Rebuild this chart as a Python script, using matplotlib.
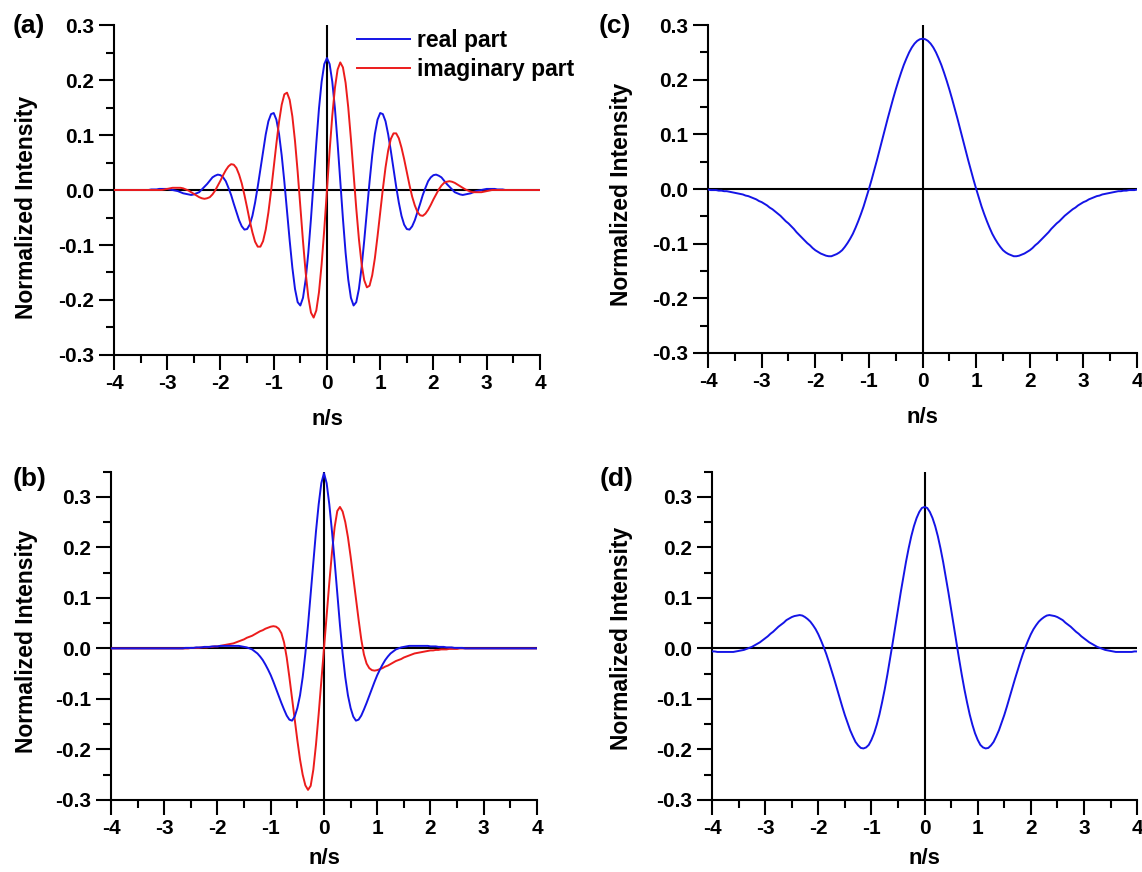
import numpy as np
import matplotlib.pyplot as plt
from matplotlib.ticker import MultipleLocator, FuncFormatter

plt.rcParams['font.family'] = ['Liberation Sans', 'DejaVu Sans']
plt.rcParams['font.weight'] = 'bold'
plt.rcParams['axes.unicode_minus'] = False

# sample positions along n/s, step 0.05
x_n = np.linspace(-4, 4, 161)

# (a) real / imaginary part
real_a = [
    0, 0, 0, 0, 0, 0, 0, 0, 0, 0,
    0, 0, 0, 0, 0.001, 0.001, 0.001, 0.002, 0.002, 0.002,
    0.002, 0.001, 0, -0.001, -0.002, -0.004, -0.006, -0.007, -0.008, -0.009,
    -0.008, -0.006, -0.004, 0.001, 0.006, 0.011, 0.017, 0.023, 0.026, 0.028,
    0.027, 0.023, 0.016, 0.004, -0.009, -0.025, -0.040, -0.055, -0.066, -0.072,
    -0.071, -0.063, -0.047, -0.023, 0.006, 0.038, 0.071, 0.101, 0.125, 0.138,
    0.140, 0.128, 0.102, 0.063, 0.015, -0.038, -0.092, -0.141, -0.180, -0.204,
    -0.210, -0.196, -0.163, -0.114, -0.052, 0.016, 0.085, 0.148, 0.197, 0.229,
    0.240, 0.229, 0.197, 0.148, 0.085, 0.016, -0.052, -0.114, -0.163, -0.196,
    -0.210, -0.204, -0.180, -0.141, -0.092, -0.038, 0.015, 0.063, 0.102, 0.128,
    0.140, 0.138, 0.125, 0.101, 0.071, 0.038, 0.006, -0.023, -0.047, -0.063,
    -0.071, -0.072, -0.066, -0.055, -0.040, -0.025, -0.009, 0.004, 0.016, 0.023,
    0.027, 0.028, 0.026, 0.023, 0.017, 0.011, 0.006, 0.001, -0.004, -0.006,
    -0.008, -0.009, -0.008, -0.007, -0.006, -0.004, -0.002, -0.001, 0, 0.001,
    0.002, 0.002, 0.002, 0.002, 0.001, 0.001, 0.001, 0, 0, 0,
    0, 0, 0, 0, 0, 0, 0, 0, 0, 0,
    0]
imag_a = [
    0, 0, 0, 0, 0, 0, 0, 0, 0, 0,
    0, 0, 0, 0, 0, 0, 0, 0, 0, 0.001,
    0.002, 0.003, 0.004, 0.004, 0.004, 0.004, 0.003, 0.001, -0.001, -0.004,
    -0.007, -0.010, -0.013, -0.015, -0.016, -0.015, -0.013, -0.008, -0.001, 0.008,
    0.017, 0.027, 0.036, 0.043, 0.047, 0.046, 0.040, 0.028, 0.012, -0.009,
    -0.032, -0.056, -0.077, -0.094, -0.103, -0.103, -0.093, -0.072, -0.041, -0.002,
    0.041, 0.084, 0.124, 0.155, 0.174, 0.177, 0.164, 0.134, 0.089, 0.033,
    -0.030, -0.093, -0.150, -0.195, -0.223, -0.232, -0.219, -0.186, -0.135, -0.071,
    0, 0.071, 0.135, 0.186, 0.219, 0.232, 0.223, 0.195, 0.150, 0.093,
    0.030, -0.033, -0.089, -0.134, -0.164, -0.177, -0.174, -0.155, -0.124, -0.084,
    -0.041, 0.002, 0.041, 0.072, 0.093, 0.103, 0.103, 0.094, 0.077, 0.056,
    0.032, 0.009, -0.012, -0.028, -0.040, -0.046, -0.047, -0.043, -0.036, -0.027,
    -0.017, -0.008, 0.001, 0.008, 0.013, 0.015, 0.016, 0.015, 0.013, 0.010,
    0.007, 0.004, 0.001, -0.001, -0.003, -0.004, -0.004, -0.004, -0.004, -0.003,
    -0.002, -0.001, 0, 0, 0, 0, 0, 0, 0, 0,
    0, 0, 0, 0, 0, 0, 0, 0, 0, 0,
    0]

# (b) real / imaginary part
real_b = [
    0, 0, 0, 0, 0, 0, 0, 0, 0, 0,
    0, 0, 0, 0, 0, 0, 0, 0, 0, 0,
    0, 0, 0, 0, 0, 0, 0, 0, 0.001, 0.001,
    0.001, 0.001, 0.002, 0.002, 0.002, 0.003, 0.003, 0.003, 0.004, 0.004,
    0.004, 0.005, 0.005, 0.005, 0.005, 0.005, 0.005, 0.005, 0.005, 0.004,
    0.003, 0.002, 0, -0.002, -0.006, -0.010, -0.016, -0.023, -0.032, -0.042,
    -0.053, -0.066, -0.080, -0.094, -0.108, -0.121, -0.133, -0.141, -0.143, -0.135,
    -0.118, -0.093, -0.057, -0.010, 0.046, 0.108, 0.172, 0.232, 0.285, 0.327,
    0.347, 0.327, 0.285, 0.232, 0.172, 0.108, 0.046, -0.010, -0.057, -0.093,
    -0.118, -0.135, -0.143, -0.141, -0.133, -0.121, -0.108, -0.094, -0.080, -0.066,
    -0.053, -0.042, -0.032, -0.023, -0.016, -0.010, -0.006, -0.002, 0, 0.002,
    0.003, 0.004, 0.005, 0.005, 0.005, 0.005, 0.005, 0.005, 0.005, 0.005,
    0.004, 0.004, 0.004, 0.003, 0.003, 0.003, 0.002, 0.002, 0.002, 0.001,
    0.001, 0.001, 0.001, 0, 0, 0, 0, 0, 0, 0,
    0, 0, 0, 0, 0, 0, 0, 0, 0, 0,
    0, 0, 0, 0, 0, 0, 0, 0, 0, 0,
    0]
imag_b = [
    0, 0, 0, 0, 0, 0, 0, 0, 0, 0,
    0, 0, 0, 0, 0, 0, 0, 0, 0, 0,
    0, 0, 0, 0, 0, 0, 0, 0, 0, 0,
    0.001, 0.001, 0.001, 0.001, 0.002, 0.002, 0.002, 0.003, 0.003, 0.004,
    0.004, 0.005, 0.006, 0.007, 0.008, 0.009, 0.010, 0.012, 0.014, 0.016,
    0.018, 0.021, 0.023, 0.025, 0.028, 0.031, 0.034, 0.036, 0.039, 0.041,
    0.043, 0.044, 0.043, 0.039, 0.030, 0.012, -0.018, -0.057, -0.099, -0.141,
    -0.182, -0.220, -0.250, -0.271, -0.280, -0.272, -0.240, -0.190, -0.130, -0.065,
    0, 0.065, 0.130, 0.190, 0.240, 0.272, 0.280, 0.271, 0.250, 0.220,
    0.182, 0.141, 0.099, 0.057, 0.018, -0.012, -0.030, -0.039, -0.043, -0.044,
    -0.043, -0.041, -0.039, -0.036, -0.034, -0.031, -0.028, -0.025, -0.023, -0.021,
    -0.018, -0.016, -0.014, -0.012, -0.010, -0.009, -0.008, -0.007, -0.006, -0.005,
    -0.004, -0.004, -0.003, -0.003, -0.002, -0.002, -0.002, -0.001, -0.001, -0.001,
    -0.001, 0, 0, 0, 0, 0, 0, 0, 0, 0,
    0, 0, 0, 0, 0, 0, 0, 0, 0, 0,
    0, 0, 0, 0, 0, 0, 0, 0, 0, 0,
    0]

# (c)
wave_c = [
    -0.001, -0.002, -0.002, -0.002, -0.003, -0.003, -0.004, -0.004, -0.005, -0.006,
    -0.007, -0.008, -0.009, -0.010, -0.012, -0.013, -0.015, -0.017, -0.019, -0.022,
    -0.024, -0.027, -0.030, -0.034, -0.037, -0.041, -0.045, -0.049, -0.054, -0.059,
    -0.063, -0.068, -0.073, -0.079, -0.084, -0.089, -0.094, -0.099, -0.103, -0.108,
    -0.112, -0.115, -0.118, -0.120, -0.122, -0.123, -0.123, -0.121, -0.119, -0.116,
    -0.112, -0.106, -0.099, -0.091, -0.082, -0.071, -0.059, -0.046, -0.032, -0.016,
    0.000, 0.017, 0.035, 0.053, 0.072, 0.091, 0.110, 0.129, 0.147, 0.165,
    0.182, 0.198, 0.213, 0.227, 0.239, 0.250, 0.259, 0.266, 0.271, 0.274,
    0.275, 0.274, 0.271, 0.266, 0.259, 0.250, 0.239, 0.227, 0.213, 0.198,
    0.182, 0.165, 0.147, 0.129, 0.110, 0.091, 0.072, 0.053, 0.035, 0.017,
    0.000, -0.016, -0.032, -0.046, -0.059, -0.071, -0.082, -0.091, -0.099, -0.106,
    -0.112, -0.116, -0.119, -0.121, -0.123, -0.123, -0.122, -0.120, -0.118, -0.115,
    -0.112, -0.108, -0.103, -0.099, -0.094, -0.089, -0.084, -0.079, -0.073, -0.068,
    -0.063, -0.059, -0.054, -0.049, -0.045, -0.041, -0.037, -0.034, -0.030, -0.027,
    -0.024, -0.022, -0.019, -0.017, -0.015, -0.013, -0.012, -0.010, -0.009, -0.008,
    -0.007, -0.006, -0.005, -0.004, -0.004, -0.003, -0.003, -0.002, -0.002, -0.002,
    -0.001]

# (d)
wave_d = [
    -0.006, -0.006, -0.007, -0.007, -0.007, -0.007, -0.007, -0.007, -0.007, -0.006,
    -0.005, -0.004, -0.003, -0.001, 0.001, 0.003, 0.006, 0.009, 0.012, 0.016,
    0.020, 0.024, 0.029, 0.033, 0.038, 0.043, 0.047, 0.051, 0.056, 0.059,
    0.062, 0.064, 0.065, 0.066, 0.065, 0.062, 0.058, 0.053, 0.046, 0.038,
    0.028, 0.016, 0.003, -0.011, -0.027, -0.044, -0.061, -0.079, -0.097, -0.115,
    -0.132, -0.147, -0.162, -0.174, -0.185, -0.192, -0.197, -0.198, -0.196, -0.191,
    -0.181, -0.168, -0.151, -0.131, -0.107, -0.081, -0.052, -0.021, 0.011, 0.044,
    0.077, 0.110, 0.141, 0.171, 0.198, 0.222, 0.242, 0.258, 0.270, 0.278,
    0.280, 0.278, 0.270, 0.258, 0.242, 0.222, 0.198, 0.171, 0.141, 0.110,
    0.077, 0.044, 0.011, -0.021, -0.052, -0.081, -0.107, -0.131, -0.151, -0.168,
    -0.181, -0.191, -0.196, -0.198, -0.197, -0.192, -0.185, -0.174, -0.162, -0.147,
    -0.132, -0.115, -0.097, -0.079, -0.061, -0.044, -0.027, -0.011, 0.003, 0.016,
    0.028, 0.038, 0.046, 0.053, 0.058, 0.062, 0.065, 0.066, 0.065, 0.064,
    0.062, 0.059, 0.056, 0.051, 0.047, 0.043, 0.038, 0.033, 0.029, 0.024,
    0.020, 0.016, 0.012, 0.009, 0.006, 0.003, 0.001, -0.001, -0.003, -0.004,
    -0.005, -0.006, -0.007, -0.007, -0.007, -0.007, -0.007, -0.007, -0.007, -0.006,
    -0.006]

BLUE = '#1414e6'
RED = '#ec1c1c'

fig = plt.figure(figsize=(11.42, 8.72), dpi=100)


def setup(ax, ymax, lab_x, lab_y, xpad):
    ax.set_xlim(-4, 4)
    ax.set_ylim(-0.3, ymax)
    for s in ['top', 'right']:
        ax.spines[s].set_visible(False)
    for s in ['left', 'bottom']:
        ax.spines[s].set_linewidth(1.5)
    ax.xaxis.set_major_locator(MultipleLocator(1))
    ax.xaxis.set_minor_locator(MultipleLocator(0.5))
    ax.yaxis.set_major_locator(MultipleLocator(0.1))
    ax.yaxis.set_minor_locator(MultipleLocator(0.05))
    ax.xaxis.set_major_formatter(FuncFormatter(lambda v, p: '%d' % round(v)))
    ax.yaxis.set_major_formatter(FuncFormatter(lambda v, p: '%.1f' % (round(v, 1) + 0)))
    ax.tick_params(which='major', direction='out', length=11, width=1.5,
                   labelsize=15, pad=3)
    ax.tick_params(which='minor', direction='out', length=6, width=1.5)
    ax.axhline(0, color='black', lw=1.5, zorder=1)
    ax.axvline(0, color='black', lw=1.5, zorder=1)
    ax.set_xlabel('n/s', fontsize=16, fontweight='bold', labelpad=xpad)
    ax.set_ylabel('Normalized Intensity', fontsize=16.5, fontweight='bold')
    ax.yaxis.set_label_coords(lab_x, lab_y)
    ax.patch.set_alpha(0)


ax_a = fig.add_axes([0.0998, 0.5929, 0.3730, 0.3784])
ax_c = fig.add_axes([0.620, 0.5952, 0.3757, 0.3761])
ax_b = fig.add_axes([0.0972, 0.0826, 0.3730, 0.3766])
ax_d = fig.add_axes([0.6235, 0.0826, 0.3722, 0.3766])

setup(ax_a, 0.3, -0.178, 0.448, 11)
setup(ax_c, 0.3, -0.175, 0.485, 11)
setup(ax_b, 0.35, -0.171, 0.484, 7)
setup(ax_d, 0.35, -0.186, 0.493, 7)

ax_a.plot(x_n, real_a, color=BLUE, lw=1.4, label='real part', zorder=3)
ax_a.plot(x_n, imag_a, color=RED, lw=1.4, label='imaginary part', zorder=3)
ax_b.plot(x_n, imag_b, color=RED, lw=1.4, zorder=3)
ax_b.plot(x_n, real_b, color=BLUE, lw=1.4, zorder=3)
ax_c.plot(x_n, wave_c, color=BLUE, lw=1.4, zorder=3)
ax_d.plot(x_n, wave_d, color=BLUE, lw=1.4, zorder=3)

ax_a.legend(loc='upper left', bbox_to_anchor=(357 / 1142, 1 - 29 / 872),
            bbox_transform=fig.transFigure, frameon=False, fontsize=16.5,
            borderpad=0, borderaxespad=0, handlelength=2.3, handletextpad=0.3,
            labelspacing=0.25)

fig.text(13 / 1142, 1 - 14 / 872, '(a)', fontsize=19, fontweight='bold', va='top')
fig.text(599 / 1142, 1 - 14 / 872, '(c)', fontsize=19, fontweight='bold', va='top')
fig.text(13 / 1142, 1 - 467 / 872, '(b)', fontsize=19, fontweight='bold', va='top')
fig.text(600 / 1142, 1 - 467 / 872, '(d)', fontsize=19, fontweight='bold', va='top')

fig.savefig('out.png', dpi=100, facecolor='white')
